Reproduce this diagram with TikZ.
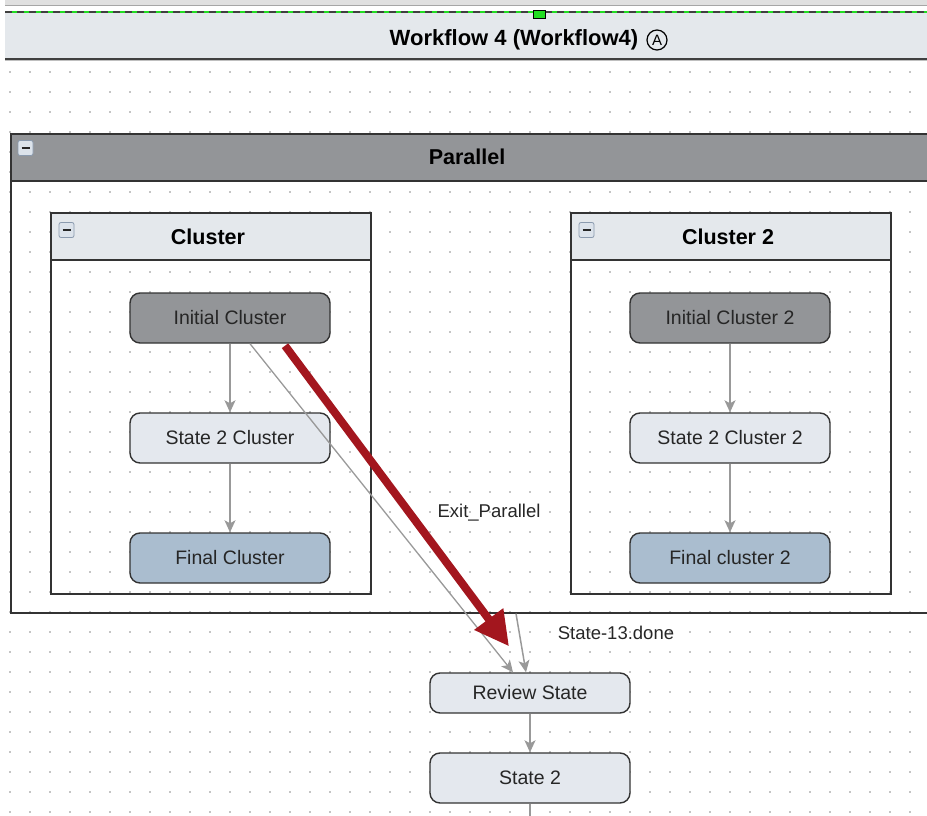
\documentclass[tikz,border=0pt]{standalone}
\usepackage{fontspec}
\setmainfont{Liberation Sans}
\usetikzlibrary{arrows.meta,calc}
\definecolor{hdrlight}{HTML}{E4E8EC}
\definecolor{hdrgray}{HTML}{939598}
\definecolor{initfill}{HTML}{939598}
\definecolor{statefill}{HTML}{E4E8EE}
\definecolor{finalfill}{HTML}{AABDCF}
\definecolor{redarrow}{HTML}{A3161E}
\definecolor{connector}{HTML}{999999}
\definecolor{dotcol}{HTML}{C4C4C4}
\definecolor{bordercol}{HTML}{333333}
\definecolor{greenmark}{HTML}{22DD22}
\definecolor{iconfill}{HTML}{DCE3EB}
\definecolor{iconborder}{HTML}{8A9AAE}
\tikzset{
  statebox/.style={draw=bordercol, line width=1.4pt, rounded corners=10pt,
    minimum width=200pt, minimum height=50pt, inner sep=0pt,
    font=\fontsize{19.5}{22}\selectfont, text=black!85},
  boxbody/.style={draw=bordercol, line width=1.6pt, inner sep=0pt},
  boxhdr/.style={draw=bordercol, line width=1.6pt, inner sep=0pt},
  titletext/.style={font=\bfseries\fontsize{21.5}{24}\selectfont, inner sep=0pt},
  conn/.style={draw=connector, line width=1.5pt, -{Stealth[length=12pt,width=11pt,inset=3pt]}},
  lbl/.style={font=\fontsize{18.5}{22}\selectfont, inner sep=0pt, text=black!85},
  iconbox/.style={fill=iconfill, draw=iconborder, line width=0.8pt, rounded corners=2pt,
    minimum width=15pt, minimum height=15pt, inner sep=0pt},
}
\begin{document}
\begin{tikzpicture}[x=1pt,y=-1pt]
\useasboundingbox (0,0) rectangle (927,816);
\clip (0,0) rectangle (927,816);
% dotted grid
\foreach \i in {0,...,46} {
  \foreach \j in {0,...,37} {
    \fill[dotcol] ({10+20*\i-0.8},{72+20*\j-0.8}) rectangle +(1.6,1.6);
  }
}
% top workflow header
\fill[black!12] (5,0) rectangle (930,5);
\draw[black!35, line width=1pt] (5,5.5) -- (930,5.5);
\fill[hdrlight] (5,13) rectangle (930,58);
\draw[greenmark, line width=2.5pt] (5,12) -- (930,12);
\draw[black!75, line width=2.5pt, dash pattern=on 7pt off 5pt] (5,12) -- (930,12);
\draw[black!75, line width=2.2pt] (5,59) -- (930,59);
\draw[black!25, line width=1pt] (5,61) -- (930,61);
\node[draw=black, line width=0.8pt, fill=greenmark, minimum width=12pt, minimum height=8pt, inner sep=0pt] (mark) at (539.5,14.5) {};
\node[titletext, font=\bfseries\fontsize{22}{24}\selectfont] (wftitle) at (514,40) {Workflow 4 (Workflow4)};
\node[circle, draw=black, line width=1.2pt, inner sep=0pt, minimum size=20pt,
  font=\fontsize{15}{16}\selectfont] (circa) at (657,40) {A};
% Parallel box
\node[boxbody, minimum width=940pt, minimum height=479pt, anchor=north west] (par) at (10,133) {};
\node[boxhdr, fill=hdrgray, minimum width=940pt, minimum height=47pt, anchor=north west] (parhdr) at (10,133) {};
\node[titletext] (partitle) at (467,157) {Parallel};
\node[iconbox] (paricon) at (25.5,148) {};
\draw[black!85, line width=2.2pt] ([xshift=-4pt]paricon.center) -- ([xshift=4pt]paricon.center);
% Cluster box
\node[boxbody, minimum width=320pt, minimum height=381pt, anchor=north west] (cl) at (50,212) {};
\node[boxhdr, fill=hdrlight, minimum width=320pt, minimum height=47pt, anchor=north west] (clhdr) at (50,212) {};
\node[titletext] (cltitle) at (208,237) {Cluster};
\node[iconbox] (clicon) at (66.5,230) {};
\draw[black!85, line width=2.2pt] ([xshift=-4pt]clicon.center) -- ([xshift=4pt]clicon.center);
% Cluster 2 box
\node[boxbody, minimum width=320pt, minimum height=381pt, anchor=north west] (cltwo) at (570,212) {};
\node[boxhdr, fill=hdrlight, minimum width=320pt, minimum height=47pt, anchor=north west] (cltwohdr) at (570,212) {};
\node[titletext] (cltwotitle) at (728,237) {Cluster 2};
\node[iconbox] (cltwoicon) at (586.5,230) {};
\draw[black!85, line width=2.2pt] ([xshift=-4pt]cltwoicon.center) -- ([xshift=4pt]cltwoicon.center);
% states left
\node[statebox, fill=initfill] (ic) at (230,318) {Initial Cluster};
\node[statebox, fill=statefill] (sc) at (230,438) {State 2 Cluster};
\node[statebox, fill=finalfill] (fc) at (230,558) {Final Cluster};
% states right
\node[statebox, fill=initfill] (ictwo) at (730,318) {Initial Cluster 2};
\node[statebox, fill=statefill] (sctwo) at (730,438) {State 2 Cluster 2};
\node[statebox, fill=finalfill] (fctwo) at (730,558) {Final cluster 2};
% bottom states
\node[statebox, fill=statefill, minimum height=40pt] (rs) at (530,693) {Review State};
\node[statebox, fill=statefill] (stwo) at (530,778) {State 2};
\coordinate (bottomend) at (530,820);
% connectors
\draw[conn] (ic) -- (sc);
\draw[conn] (sc) -- (fc);
\draw[conn] (ictwo) -- (sctwo);
\draw[conn] (sctwo) -- (fctwo);
\draw[conn] (rs) -- (stwo);
\draw[draw=connector, line width=1.5pt] (stwo) -- (bottomend);
\draw[conn, line width=1.3pt] ([xshift=20pt]ic.south) -- ([xshift=-17pt]rs.north);
\draw[conn] ([xshift=-14pt]rs.north |- par.south) -- ([xshift=-4pt]rs.north);
\draw[redarrow, line width=8pt, -{Triangle[length=34pt,width=34pt]}]
  ([xshift=55pt,yshift=-2pt]ic.south) -- ([xshift=-21pt,yshift=26pt]rs.north);
% labels
\node[lbl] (exitlbl) at (489,513) {Exit\_Parallel};
\node[lbl] (donelbl) at (616,633) {State-13.done};
\end{tikzpicture}
\end{document}
